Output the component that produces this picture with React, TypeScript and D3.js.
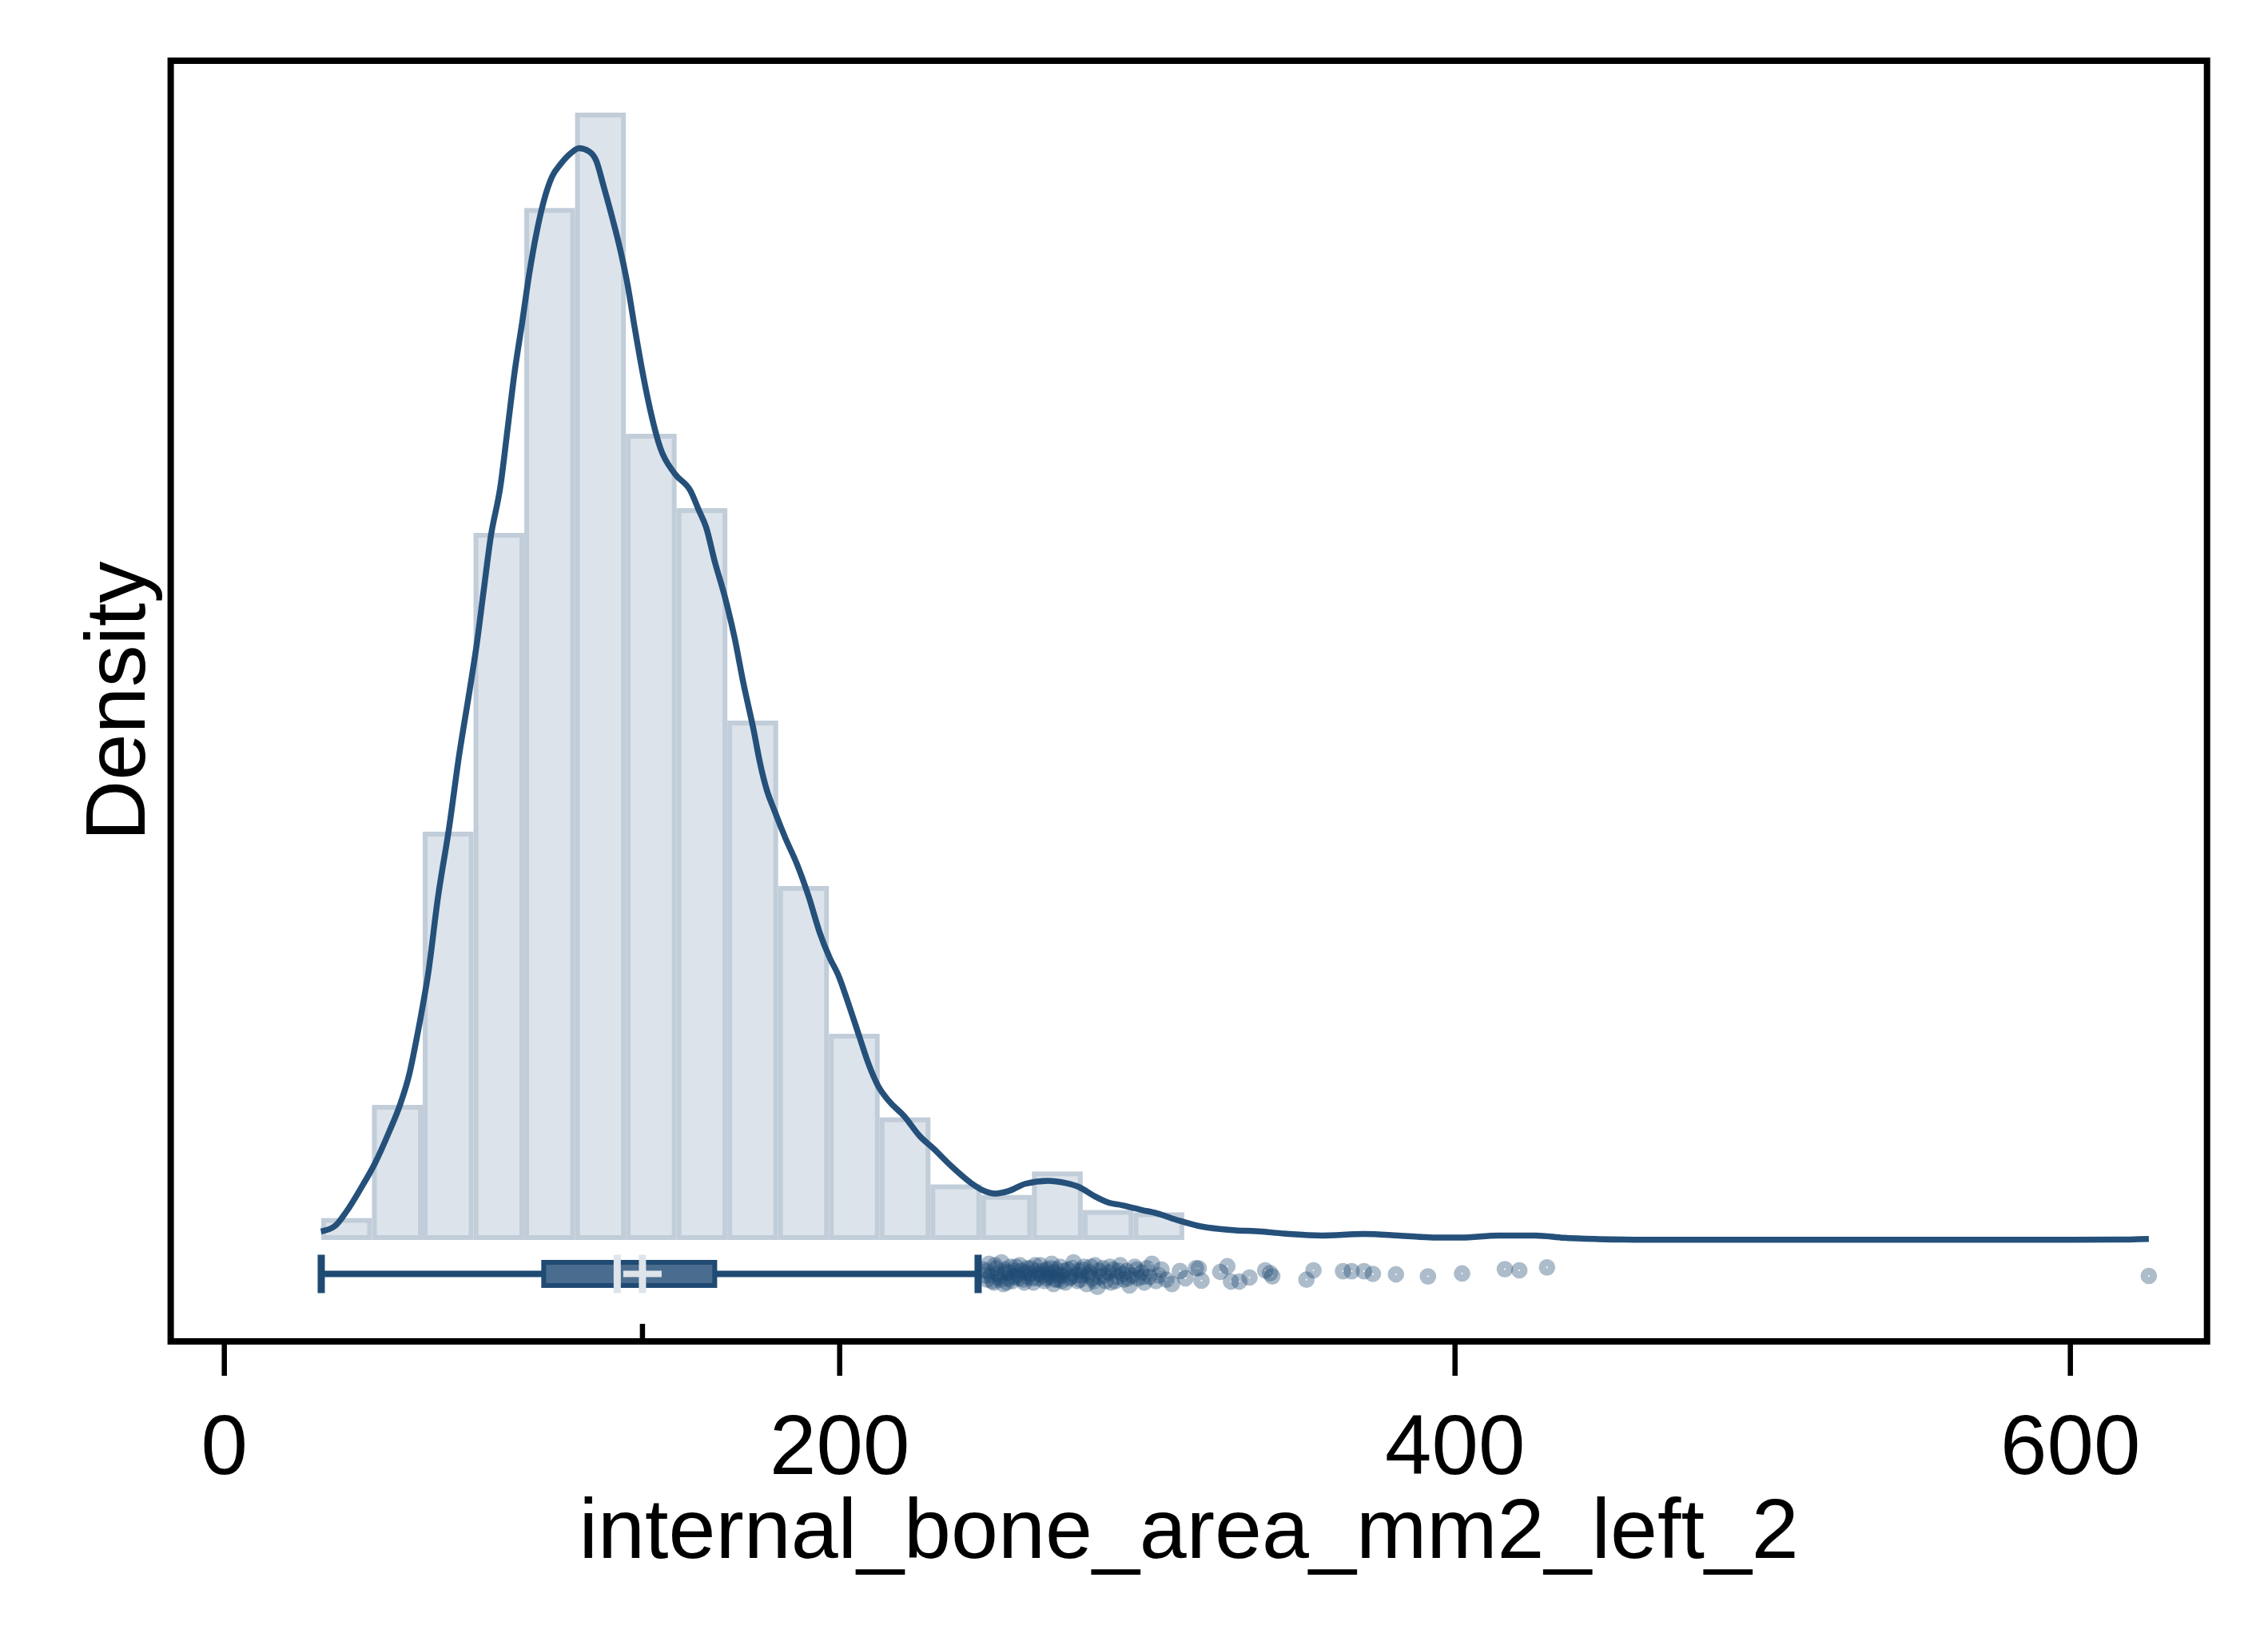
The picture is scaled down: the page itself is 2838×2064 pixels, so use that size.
import React, { useEffect, useRef } from 'react';
import * as d3 from 'd3';

// histogram: equal-width bins starting at the sample minimum
const histStart = 31.5;
const histBinWidth = 16.5;
const histDensity = [
  0.000206, 0.001273, 0.003848, 0.006664, 0.009726, 0.010625, 0.007598,
  0.006897, 0.004895, 0.003336, 0.001943, 0.001155, 0.000523, 0.000424,
  0.000645, 0.000282, 0.00026, 0.00003, 0.00003, 0, 0, 0.00002,
  0.00002, 0, 0.00002, 0, 0, 0, 0, 0, 0, 0, 0, 0, 0, 0.00002,
];

// kernel density estimate, [value, density]
const kdePoints: [number, number][] = [
  [31.4, 0.00008], [36.0, 0.000133], [39.7, 0.000268], [44.3, 0.000483],
  [49.0, 0.000725], [53.6, 0.001021], [57.3, 0.00129], [60.1, 0.001559],
  [62.4, 0.001882], [64.8, 0.002258], [66.2, 0.0025], [69.4, 0.003221],
  [73.1, 0.003893], [76.3, 0.004565], [79.6, 0.005157], [81.9, 0.005587],
  [84.2, 0.006099], [86.5, 0.006609], [89.8, 0.007116], [92.1, 0.007653],
  [94.4, 0.00819], [96.8, 0.008647], [99.1, 0.009105], [101.4, 0.009481],
  [103.7, 0.009777], [106.5, 0.01002], [109.3, 0.01014], [112.5, 0.01024],
  [115.3, 0.01029], [118.5, 0.01026], [120.9, 0.01017], [123.2, 0.00994],
  [126.0, 0.009643], [128.8, 0.00932], [131.1, 0.008998], [133.4, 0.008594],
  [136.2, 0.008137], [138.5, 0.007814], [141.7, 0.007465], [146.4, 0.007222],
  [151.5, 0.007061], [154.3, 0.006873], [156.6, 0.006717], [159.4, 0.006394],
  [162.6, 0.006071], [165.9, 0.005668], [168.6, 0.005263], [172.2, 0.004782],
  [174.0, 0.004511], [176.3, 0.004242], [178.7, 0.004054], [182.4, 0.003785],
  [186.1, 0.003544], [189.8, 0.003248], [193.5, 0.002898], [196.8, 0.002656],
  [199.5, 0.0025], [202.8, 0.002231], [206.5, 0.001908], [209.3, 0.001666],
  [212.5, 0.001451], [216.2, 0.001303], [220.9, 0.001169], [226.0, 0.00098],
  [230.6, 0.000859], [236.2, 0.000698], [242.7, 0.000537], [246.4, 0.00047],
  [250.6, 0.000437], [255.2, 0.000464], [260.3, 0.000529], [267.7, 0.000558],
  [273.3, 0.000537], [277.9, 0.000497], [282.6, 0.000416], [287.2, 0.000354],
  [291.8, 0.000327], [298.3, 0.000282], [303.0, 0.000252], [310.4, 0.000181],
  [316.7, 0.000132], [324.1, 0.000101], [328.7, 0.00009], [335.2, 0.000083],
  [344.5, 0.00006], [356.6, 0.000042], [370.5, 0.000056], [381.6, 0.000042],
  [393.7, 0.000023], [402.1, 0.000023], [414.1, 0.000042], [426.2, 0.000042],
  [435.4, 0.00002], [446.6, 0.000008], [462.2, 0.000002], [500, 0.000001],
  [550, 0.000001], [600, 0.000001], [615, 0.000003], [625.5, 0.00001],
];

// box plot summary
const boxMin = 31.5;
const boxQ1 = 103.8;
const boxMedian = 127.7;
const boxMean = 135.9;
const boxQ3 = 159.4;
const boxUpper = 245.0;

// outside values, [value, vertical jitter in -1..1]
const outliers: [number, number][] = [
  [246.8, -0.3], [247.9, 0.4], [248.5, -0.7], [249.2, 0.1], [250.1, 0.6],
  [250.9, -0.4], [251.8, 0.2], [252.6, -0.8], [253.2, 0.7], [253.9, -0.1],
  [254.8, 0.3], [255.5, -0.5], [256.1, 0.5], [256.9, -0.2], [257.8, 0.1],
  [258.6, -0.6], [259.6, 0.4], [260.4, -0.1], [261.3, 0.2], [262.1, -0.4],
  [263.0, 0.6], [263.9, -0.2], [264.5, 0.3], [265.2, -0.6], [265.9, 0.1],
  [266.5, 0.5], [267.3, -0.3], [268.2, 0.2], [268.9, -0.7], [269.5, 0.7],
  [270.0, -0.1], [270.8, 0.4], [271.7, -0.5], [272.5, 0.1], [273.4, 0.6],
  [274.2, -0.3], [275.1, 0.2], [276.0, -0.8], [277.3, 0.5], [277.9, -0.2],
  [278.6, 0.1], [279.4, -0.5], [280.3, 0.7], [281.2, -0.1], [282.1, 0.3],
  [283.0, -0.6], [283.8, 0.9], [284.6, 0.2], [285.5, -0.4], [286.4, 0.5],
  [287.3, -0.1], [288.2, 0.6], [289.0, -0.3], [290.1, 0.2], [291.2, -0.6],
  [292.5, 0.4], [293.3, -0.2], [294.2, 0.8], [295.0, 0.1], [295.9, -0.5],
  [297.0, 0.3], [298.1, -0.1], [299.0, 0.6], [299.8, -0.4], [300.7, 0.2],
  [301.5, -0.7], [302.8, 0.5], [303.7, 0.1], [304.6, -0.3], [306.2, 0.4],
  [308.0, 0.7], [310.6, -0.2], [312.4, 0.3], [315.8, -0.4], [316.7, -0.39],
  [317.6, 0.47], [323.7, -0.14], [326.0, -0.53], [327.2, 0.53], [329.9, 0.53],
  [333.2, 0.25], [338.3, -0.25], [339.9, -0.05], [340.6, 0.17], [351.7, 0.4],
  [354.0, -0.25], [363.6, -0.19], [366.4, -0.19], [370.4, -0.19], [373.3, 0.0],
  [380.8, 0.03], [391.2, 0.17], [402.3, -0.03], [416.2, -0.33], [420.9, -0.25],
  [429.9, -0.45], [625.5, 0.14],
  // second layer of the dense run just past the whisker
  [247.2, 0.1], [248.0, -0.2], [249.6, 0.5], [250.5, -0.6], [251.4, 0.0],
  [252.2, 0.4], [253.6, -0.3], [254.3, 0.6], [255.1, -0.1], [256.6, 0.2],
  [257.3, -0.5], [258.2, 0.3], [259.1, -0.2], [260.0, 0.6], [260.9, -0.4],
  [261.8, 0.0], [262.6, 0.3], [263.5, -0.6], [264.9, 0.0], [266.1, -0.2],
  [267.0, 0.3], [267.8, 0.0], [268.6, -0.4], [269.9, 0.4], [270.4, -0.3],
  [271.3, 0.1], [272.1, 0.5], [273.0, -0.2], [274.7, 0.3], [275.6, -0.4],
  [276.6, 0.1], [278.2, 0.4], [279.0, -0.3], [280.8, 0.1], [281.7, -0.5],
  [282.6, 0.5], [284.2, -0.2], [285.9, 0.1], [287.8, -0.5], [289.6, 0.5],
  [290.7, -0.2], [292.0, 0.0], [293.8, 0.3], [296.5, -0.3], [298.6, 0.2],
];

const xTicks = [0, 200, 400, 600];
const xTitle = 'internal_bone_area_mm2_left_2';
const yTitle = 'Density';

const W = 2838;
const H = 2064;
const FONT = '"Liberation Sans", Arial, Helvetica, sans-serif';

const DensityBoxChart: React.FC = () => {
  const svgRef = useRef<SVGSVGElement>(null);

  useEffect(() => {
    if (!svgRef.current) return;
    const svg = d3.select(svgRef.current);
    svg.selectAll('*').remove();

    const frame = { left: 213.6, top: 76, right: 2761.7, bottom: 1679 };
    const baseline = 1552;
    const boxY = 1594.5;

    const x = d3.scaleLinear().domain([0, 600]).range([280.7, 2590.7]);
    const y = d3.scaleLinear().domain([0, 0.01]).range([baseline, 224]);

    // histogram bars, outline drawn inside each bar
    const bins = histDensity.map((d, i) => ({
      x0: histStart + i * histBinWidth,
      x1: histStart + (i + 1) * histBinWidth,
      d,
    }));
    const sw = 6;
    svg
      .append('g')
      .selectAll('rect')
      .data(bins.filter((b) => b.d > 0))
      .join('rect')
      .attr('x', (b) => x(b.x0) + sw / 2)
      .attr('width', (b) => x(b.x1) - x(b.x0) - sw)
      .attr('y', (b) => Math.min(y(b.d), baseline - sw) + sw / 2)
      .attr('height', (b) =>
        Math.max(0, baseline - Math.min(y(b.d), baseline - sw) - sw),
      )
      .attr('fill', '#dce3ea')
      .attr('stroke', '#c1cdd9')
      .attr('stroke-width', sw);

    // density curve
    const line = d3
      .line<[number, number]>()
      .x((p) => x(p[0]))
      .y((p) => y(p[1]))
      .curve(d3.curveMonotoneX);
    svg
      .append('path')
      .datum(kdePoints)
      .attr('d', line)
      .attr('fill', 'none')
      .attr('stroke', '#25507a')
      .attr('stroke-width', 7.5)
      .attr('stroke-linejoin', 'round');

    // box plot
    const dark = '#1f4a73';
    const light = '#dde4ea';
    const bp = svg.append('g');
    bp.append('line')
      .attr('x1', x(boxMin))
      .attr('x2', x(boxUpper))
      .attr('y1', boxY)
      .attr('y2', boxY)
      .attr('stroke', dark)
      .attr('stroke-width', 8);
    [boxMin, boxUpper].forEach((v) => {
      bp.append('line')
        .attr('x1', x(v))
        .attr('x2', x(v))
        .attr('y1', boxY - 24)
        .attr('y2', boxY + 24)
        .attr('stroke', dark)
        .attr('stroke-width', 9);
    });
    bp.append('rect')
      .attr('x', x(boxQ1))
      .attr('y', boxY - 14.5)
      .attr('width', x(boxQ3) - x(boxQ1))
      .attr('height', 29)
      .attr('fill', '#4a6c8e')
      .attr('stroke', dark)
      .attr('stroke-width', 6);
    [boxMedian, boxMean].forEach((v) => {
      bp.append('line')
        .attr('x1', x(v))
        .attr('x2', x(v))
        .attr('y1', boxY - 24)
        .attr('y2', boxY + 24)
        .attr('stroke', light)
        .attr('stroke-width', 9);
    });
    bp.append('line')
      .attr('x1', x(boxMean) - 24)
      .attr('x2', x(boxMean) + 24)
      .attr('y1', boxY)
      .attr('y2', boxY)
      .attr('stroke', light)
      .attr('stroke-width', 8);

    // outside values
    svg
      .append('g')
      .selectAll('circle')
      .data(outliers)
      .join('circle')
      .attr('cx', (p) => x(p[0]))
      .attr('cy', (p) => boxY + p[1] * 18)
      .attr('r', 5.7)
      .attr('fill', 'none')
      .attr('stroke', dark)
      .attr('stroke-opacity', 0.37)
      .attr('stroke-width', 9.3);

    // frame
    svg
      .append('rect')
      .attr('x', frame.left)
      .attr('y', frame.top)
      .attr('width', frame.right - frame.left)
      .attr('height', frame.bottom - frame.top)
      .attr('fill', 'none')
      .attr('stroke', '#000')
      .attr('stroke-width', 8);

    // x axis
    const ax = svg.append('g');
    ax.selectAll('line.tick')
      .data(xTicks)
      .join('line')
      .attr('class', 'tick')
      .attr('x1', (t) => x(t))
      .attr('x2', (t) => x(t))
      .attr('y1', frame.bottom)
      .attr('y2', 1722)
      .attr('stroke', '#000')
      .attr('stroke-width', 6.5);
    ax.selectAll('text.tick')
      .data(xTicks)
      .join('text')
      .attr('class', 'tick')
      .attr('x', (t) => x(t))
      .attr('y', 1845)
      .attr('text-anchor', 'middle')
      .attr('font-family', FONT)
      .attr('font-size', 105)
      .attr('fill', '#000')
      .text((t) => String(t));
    // mean marker on the axis
    ax.append('line')
      .attr('x1', x(boxMean))
      .attr('x2', x(boxMean))
      .attr('y1', frame.bottom)
      .attr('y2', 1657)
      .attr('stroke', '#000')
      .attr('stroke-width', 6.5);

    svg
      .append('text')
      .attr('x', (frame.left + frame.right) / 2)
      .attr('y', 1950)
      .attr('text-anchor', 'middle')
      .attr('font-family', FONT)
      .attr('font-size', 106)
      .attr('fill', '#000')
      .text(xTitle);

    svg
      .append('text')
      .attr('transform', `translate(181,${(frame.top + frame.bottom) / 2}) rotate(-90)`)
      .attr('text-anchor', 'middle')
      .attr('font-family', FONT)
      .attr('font-size', 105)
      .attr('fill', '#000')
      .text(yTitle);
  }, []);

  return (
    <svg
      ref={svgRef}
      width={W}
      height={H}
      style={{ position: 'absolute', left: 0, top: 0, background: '#fff' }}
    />
  );
};

export default function App() {
  return <DensityBoxChart />;
}
